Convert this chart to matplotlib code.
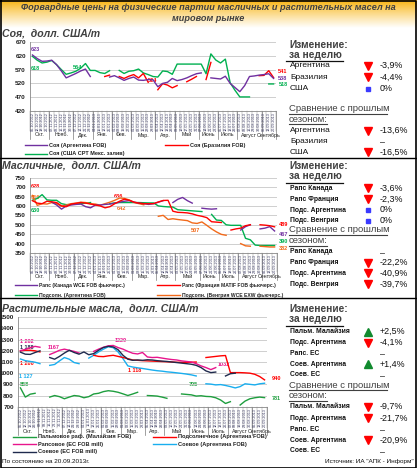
import itertools
import numpy as np
import matplotlib.pyplot as plt

plt.rcParams['font.family'] = ['Liberation Sans', 'DejaVu Sans']

n = np.nan

# === 1. Данные (недельные цены, долл. США/т) ===
weeks = ["05.10.2012", "12.10.2012", "19.10.2012", "26.10.2012",
         "02.11.2012", "09.11.2012", "16.11.2012", "23.11.2012", "30.11.2012",
         "07.12.2012", "14.12.2012", "21.12.2012", "28.12.2012",
         "04.01.2013", "11.01.2013", "18.01.2013", "25.01.2013",
         "01.02.2013", "08.02.2013", "15.02.2013", "22.02.2013",
         "01.03.2013", "08.03.2013", "15.03.2013", "22.03.2013", "29.03.2013",
         "05.04.2013", "12.04.2013", "19.04.2013", "26.04.2013",
         "03.05.2013", "10.05.2013", "17.05.2013", "24.05.2013", "31.05.2013",
         "07.06.2013", "14.06.2013", "21.06.2013", "28.06.2013",
         "05.07.2013", "12.07.2013", "19.07.2013", "26.07.2013",
         "02.08.2013", "09.08.2013", "16.08.2013", "23.08.2013", "30.08.2013",
         "06.09.2013", "13.09.2013", "20.09.2013"]
months = ["Окт.", "Нояб.", "Дек.", "Янв.", "Фев.", "Мар.", "Апр.", "Май",
          "Июнь", "Июль", "Август", "Сентябрь"]

# Соя
soy_arg = [623, 610, 600, 601, 604, 588, 565, 540, 548, 556, 565, 572, 545,
           n, n, n, 543, 548, 540, 531, 538,
           543, 532, 531, 534, 533,
           508, 520, 524, 538,
           530, 534, 540, 548, 555,
           558, n, 540, 538,
           536, 546, 520, 505,
           490, 512, 545, 547, 550,
           552, 555, 538]
soy_bra = [n, n, n, n, n, n, n, n, n, n, n, n, n,
           n, n, 545, 550, n, 545, 538, 546,
           552, 540, 556, 524, n,
           497, 519, 514, 504,
           512, n, 526, 535, 545,
           n, 534, 596, n,
           n, n, n, n,
           n, n, n, n, 548,
           549, 566, 541]
soy_usa = [618, 604, 594, 597, 603, 588, 570, 553, 558, 564, 575, 592, 567,
           567, 559, 556, 566, n, 567, 556, 564,
           566, 572, 558, 552, 545,
           543, 565, 563, 553,
           590, 590, 590, 590, 590,
           590, 555, 627, 605,
           594, 608, 522, 495,
           471, 471, 471, n, n,
           n, 518, 518]

# Масличные
rape_can = [n, n, n, n, 620, 605, 583, 600, 605,
            608, 610, 596, 590,
            605, 605, 608, 610,
            615, 620, 625, 628,
            620, 615, 612, 608, 612,
            620, 628, n, 618,
            635, 645, 628, 615, n,
            588, 585, 583, 585,
            n, n, n, n,
            472, 490, 500, n, 478,
            482, 490, 467]
rape_fra = [628, 615, 612, 625, 622, 618, 600, 596, 610,
            614, 618, 615, 610,
            605, 600, 590, 596,
            612, 625, 636, 630,
            620, 615, 612, 612, 612,
            621, 629, 630, 572,
            566, 565, 563, 558, 550,
            545, 538, 516, 514,
            512, n, 472, 478,
            482, 495, 500, n, 500,
            498, 495, 489]
sun_arg = [630, 640, 660, 632, 630, 630, 612, 607, 608,
           610, 612, 615, 618,
           n, n, n, 612,
           616, 618, 618, 618,
           618, 618, 617, 616, 616,
           600, 597, 595, 594,
           580, 578, 576, 574, 572,
           570, n, 555, 525,
           523, 500, 497, 497,
           497, 428, 420, 392, 390,
           390, 390, 390]
sun_hun = [656, 603, 612, 610, 618, 612, 598, 605, 612,
           615, 620, 618, 612,
           610, 604, 612, 620,
           630, 642, 640, 632,
           618, 612, 606, n, n,
           545, 550, 528, 532,
           528, 525, 522, 510, 507,
           515, 497, 478, 462,
           449, 444, n, n,
           400, 388, 386, n, 386,
           384, 382, 382]

# Растительные масла
palm_mal = [868, 786, 812, 820, n, n, 786, 800, 790,
            771, 786, 800, 795,
            780, 790, 814, 820,
            835, 843, 838, 829,
            815, 800, 814, 829, n,
            800, 798, 795, 786,
            775, n, n, 814, 810,
            806, 795, 798, 792,
            790, 780, 760, 729,
            745, n, 715, 750, 771,
            780, 786, 781]
sun_oil_arg = [1200, 1205, 1205, 1200, 1190, n, n, n, n,
               n, n, n, n,
               n, n, 1160, 1150,
               1148, 1155, 1160, 1150,
               1140, 1130, 1118, 1115, 1112,
               1110, 1108, 1106, 1104,
               1102, 1100, 1098, 1097, 1096,
               1098, 1100, n, 1140,
               1145, 1150, 1155, 1158,
               1005, 1005, 1005, 1003, 1000,
               990, 970, 940]
rape_oil_eu = [1202, 1212, 1228, 1240, 1232, n, 1167, 1185, 1205,
               1215, 1205, 1195, 1180,
               n, n, 1195, 1215,
               1232, 1245, 1248, 1229,
               1215, 1195, 1178, 1172, 1185,
               1145, 1140, 1142, 1135,
               1128, 1122, 1118, 1110, 1105,
               1100, 1085, 1065, 1050,
               1032, 1050, n, n,
               n, n, n, n, n,
               n, n, n]
soy_oil_arg = [1127, 1112, 1105, 1098, 1085, n, 1070, 1078, 1110,
               1140, 1125, 1095, 1085,
               n, 1135, 1160, 1190,
               1215, 1237, 1228, 1190,
               1130, 1065, 1055, 1048, 1042,
               1035, 1028, 1022, 1018,
               1012, 1008, 1003, 998, 992,
               985, 975, n, 905,
               902, 895, 898, 890,
               880, 868, 880, 905, 900,
               895, 905, 910]
soy_oil_eu = [1188, 1170, 1168, 1185, 1200, n, 1140, 1125, 1150,
              1180, 1205, 1185, 1170,
              1190, 1165, 1175, 1205,
              1230, 1240, 1235, 1210,
              1160, 1125, 1115, 1118, 1115,
              1120, 1118, 1112, 1108,
              1105, 1100, 1095, 1090, 1085,
              1080, 1070, 1050, 1020,
              1005, 1010, n, 975,
              995, 1000, n, n, n,
              n, n, n]

PURPLE, RED, GREEN, ORANGE = "#7030A0", "#FF0000", "#00B050", "#F26A1B"
PALM, PINK, BLUE, NAVY = "#1E9E3E", "#E8158C", "#19AEEF", "#1F2A4D"
TXT = "#404040"

W, H = 417, 468
fig = plt.figure(figsize=(W / 100, H / 100), dpi=100)

# фоновая ось в пикселях
ov = fig.add_axes([0, 0, 1, 1], zorder=0)
g = np.linspace(0, 1, 80)[:, None, None] ** 0.9
c0 = np.array([0.97, 0.70, 0.05])
ov.imshow(c0 + (1 - c0) * g, extent=[0, W, 28, 0], aspect='auto')
ov.set_xlim(0, W)
ov.set_ylim(H, 0)
ov.axis('off')

month_counts = [len(list(grp)) for _, grp in itertools.groupby(weeks, key=lambda w: w[3:5])]


def chart(left, right, top, bot, tick_bot, month_y, month_bot, ylim, ystep, series):
    ax = fig.add_axes([left / W, 1 - bot / H, (right - left) / W, (bot - top) / H], zorder=1)
    ax.set_facecolor('none')
    x = np.arange(len(weeks))
    for vals, col in series:
        ax.plot(x, vals, color=col, lw=1.0, solid_joinstyle='round')
    ax.set_xlim(-0.5, len(weeks) - 0.5)
    ax.set_ylim(*ylim)
    ax.set_yticks(np.arange(ylim[0], ylim[1] + 1, ystep))
    ax.tick_params(axis='y', length=0, labelsize=4.6, pad=3, labelcolor='#222222')
    for lab in ax.get_yticklabels():
        lab.set_fontweight('bold')
    ax.set_xticks([])
    ax.grid(axis='y', color='#c8c8c8', lw=0.6)
    ax.set_axisbelow(True)
    for s in ['top', 'right']:
        ax.spines[s].set_visible(False)
    ax.spines['left'].set_color('#888888')
    ax.spines['bottom'].set_color('#888888')
    ax.spines['left'].set_linewidth(0.6)
    ax.spines['bottom'].set_linewidth(0.6)

    # двухуровневая ось категорий
    tr = ax.get_xaxis_transform()
    f = lambda y: (bot - y) / (bot - top)
    for i, w in enumerate(weeks):
        ax.text(i, f(bot + 1), w, rotation=90, ha='center', va='top', fontsize=2.7,
                color='#3c3c64', transform=tr, clip_on=False)
    for b in np.arange(-0.5, len(weeks)):
        ax.plot([b, b], [f(bot), f(tick_bot)], color='#9a9a9a', lw=0.35,
                transform=tr, clip_on=False)
    start = 0
    for m, cnt in zip(months, month_counts):
        ax.text(start + cnt / 2 - 0.5, f(month_y), m, ha='center', va='center',
                fontsize=3.8, color='#222222', transform=tr, clip_on=False)
        ax.plot([start - 0.5] * 2, [f(bot), f(month_bot)], color='#7a7a7a', lw=0.5,
                transform=tr, clip_on=False)
        start += cnt
    ax.plot([start - 0.5] * 2, [f(bot), f(month_bot)], color='#7a7a7a', lw=0.5,
            transform=tr, clip_on=False)
    return ax


chart(30, 276, 42, 111, 131, 135, 139, (420, 670), 50,
      [(soy_usa, GREEN), (soy_bra, RED), (soy_arg, PURPLE)])
chart(30, 277, 177.7, 253, 272, 276.5, 280, (350, 750), 50,
      [(sun_arg, GREEN), (sun_hun, ORANGE), (rape_can, PURPLE), (rape_fra, RED)])
chart(18, 267, 317.3, 406.7, 428, 431.5, 435, (700, 1500), 100,
      [(palm_mal, PALM), (soy_oil_arg, BLUE), (sun_oil_arg, RED),
       (rape_oil_eu, PINK), (soy_oil_eu, NAVY)])

# === 2. Подписи, легенды, панели справа ===
ov.text(208, 7, "Форвардные цены на физические партии масличных и растительных масел на",
        ha='center', va='center', fontsize=6.6, fontweight='bold', fontstyle='italic', color=TXT)
ov.text(208, 18.5, "мировом рынке", ha='center', va='center', fontsize=6.6,
        fontweight='bold', fontstyle='italic', color=TXT)

for t, y in [("Соя,  долл. США/т", 33), ("Масличные,  долл. США/т", 165),
             ("Растительные масла,  долл. США/т", 308.5)]:
    ov.text(2, y, t, ha='left', va='center', fontsize=7.6, fontweight='bold',
            fontstyle='italic', color=TXT)

data_labels = [
    ("623", 31, 49.5, PURPLE), ("618", 31, 69, GREEN), ("564", 73, 67.5, GREEN),
    ("524", 148, 80, RED), ("541", 278, 71.5, RED), ("538", 278, 78, PURPLE),
    ("518", 278.5, 84, GREEN),
    ("628", 31, 186.7, RED), ("656", 31, 197.7, ORANGE), ("630", 31, 211, GREEN),
    ("636", 114, 196.7, RED), ("642", 117, 209, ORANGE), ("507", 191, 230, ORANGE),
    ("489", 278.5, 224, RED), ("467", 278.5, 235, PURPLE), ("390", 278.5, 241.5, GREEN),
    ("382", 279, 248.5, ORANGE),
    ("1 202", 20, 341.7, PINK), ("1 188", 20, 347.7, NAVY), ("1 200", 20, 363.3, RED),
    ("1 127", 19, 376, BLUE), ("868", 20, 385, PALM), ("1167", 48, 347.7, PINK),
    ("1229", 115, 340, PINK), ("1 118", 128, 371, RED), ("1032", 218, 364.3, PINK),
    ("795", 189, 385, PALM), ("940", 272, 378.3, RED), ("781", 272, 398.3, PALM),
]
for t, x, y, c in data_labels:
    ov.text(x, y, t, ha='left', va='center', fontsize=4.0, fontweight='bold', color=c)

legends = [
    (25, 47, 145.3, PURPLE, "Соя (Аргентина FOB)", 4.0),
    (165, 188, 145.3, RED, "Соя (Бразилия FOB)", 4.0),
    (25, 47, 154, GREEN, "Соя (США СРТ Мекс. залив)", 4.0),
    (15, 37, 285, PURPLE, "Рапс (Канада WCE FOB фьючерс.)", 3.6),
    (157, 180, 285, RED, "Рапс (Франция MATIF FOB фьючерс.)", 3.6),
    (15, 37, 295, GREEN, "Подсолн. (Аргентина FOB)", 3.6),
    (157, 180, 295, ORANGE, "Подсолн. (Венгрия WCE EXW фьючерс.)", 3.6),
    (13, 36, 436.7, PALM, "Пальмовое раф. (Малайзия FOB)", 4.1),
    (153, 176, 436.7, RED, "Подсолнечное (Аргентина FOB)", 4.1),
    (13, 36, 444.3, PINK, "Рапсовое (ЕС FOB mill)", 4.1),
    (153, 176, 444.3, BLUE, "Соевое (Аргентина FOB)", 4.1),
    (13, 36, 451.8, NAVY, "Соевое (ЕС FOB mill)", 4.1),
]
for x0, x1, y, c, t, fs in legends:
    ov.plot([x0, x1], [y, y], color=c, lw=1.0)
    ov.text(x1 + 2, y, t, ha='left', va='center', fontsize=fs, fontweight='bold', color='#222222')

week_chg = [
    [("Аргентина", "down", "-3,9%"), ("Бразилия", "down", "-4,4%"), ("США", "flat", "0%")],
    [("Рапс Канада", "down", "-3,6%"), ("Рапс Франция", "down", "-2,3%"),
     ("Подс. Аргентина", "flat", "0%"), ("Подс. Венгрия", "flat", "0%")],
    [("Пальм. Малайзия", "up", "+2,5%"), ("Подс. Аргентина", "down", "-4,1%"),
     ("Рапс. ЕС", None, "–"), ("Соев. Аргентина", "up", "+1,4%"), ("Соев. ЕС", None, "–")],
]
season_chg = [
    [("Аргентина", "down", "-13,6%"), ("Бразилия", None, "–"), ("США", "down", "-16,5%")],
    [("Рапс Канада", None, "–"), ("Рапс Франция", "down", "-22,2%"),
     ("Подс. Аргентина", "down", "-40,9%"), ("Подс. Венгрия", "down", "-39,7%")],
    [("Пальм. Малайзия", "down", "-9,7%"), ("Подс. Аргентина", "down", "-21,7%"),
     ("Рапс. ЕС", None, "–"), ("Соев. Аргентина", "down", "-20,9%"), ("Соев. ЕС", None, "–")],
]
panels = [
    (44.7, [65.5, 77.3, 88.6], 108.7, [130.7, 141.3, 152], 6.0, 'normal'),
    (166, [188.3, 199.3, 210, 220.5], 230, [251.7, 262.7, 273.3, 284], 4.9, 'bold'),
    (309.3, [331.7, 342.7, 353.3, 364, 375], 385, [406.7, 418.3, 429.3, 440, 450.7], 4.9, 'bold'),
]
markers = {"down": ('v', RED), "up": ('^', "#118a2e"), "flat": ('s', "#3a3aff")}


def rows(items, ys, fs, fw):
    for (name, kind, val), y in zip(items, ys):
        ov.text(290, y, name, ha='left', va='center', fontsize=fs, fontweight=fw, color='#111111')
        if kind:
            mk, mc = markers[kind]
            ov.plot(368, y, marker=mk, ms=2.2 if kind == "flat" else 5.2, color=mc, mec=mc)
        ov.text(380, y + (1.5 if val == "–" else 0), val, ha='left', va='center',
                fontsize=6.4, color='#111111')


for (yh, ys_w, ys_h, ys_s, fs, fw), wk, ss in zip(panels, week_chg, season_chg):
    ov.text(289, yh, "Изменение:", ha='left', va='center', fontsize=7.3,
            fontweight='bold', color=TXT)
    ov.text(289, yh + 10.2, "за неделю", ha='left', va='center', fontsize=7.3,
            fontweight='bold', color=TXT)
    ov.plot([286, 343], [yh + 16.5, yh + 16.5], color='#111111', lw=0.9)
    rows(wk, ys_w, fs, fw)
    ov.text(289, ys_h, "Сравнение с прошлым", ha='left', va='center', fontsize=6.8, color=TXT)
    ov.plot([289, 387], [ys_h + 5, ys_h + 5], color=TXT, lw=0.8)
    ov.text(289, ys_h + 10.5, "сезоном:", ha='left', va='center', fontsize=6.8, color=TXT)
    ov.plot([289, 327], [ys_h + 15.5, ys_h + 15.5], color=TXT, lw=0.8)
    rows(ss, ys_s, fs, fw)

# рамки и разделители
ov.plot([0, W], [158, 158], color='black', lw=1.0)
ov.plot([0, W], [298, 298], color='black', lw=1.0)
ov.plot([0.5, W - 0.5, W - 0.5, 0.5, 0.5], [0.5, 0.5, H - 0.5, H - 0.5, 0.5], color='black', lw=1.2)

ov.text(2, 461.5, "По состоянию на 20.09.2013г.", ha='left', va='center', fontsize=4.6, color='#111111')
ov.text(414, 461.5, "Источник: ИА \"АПК - Информ\"", ha='right', va='center', fontsize=4.6, color='#111111')

plt.savefig("out.png", dpi=100)
